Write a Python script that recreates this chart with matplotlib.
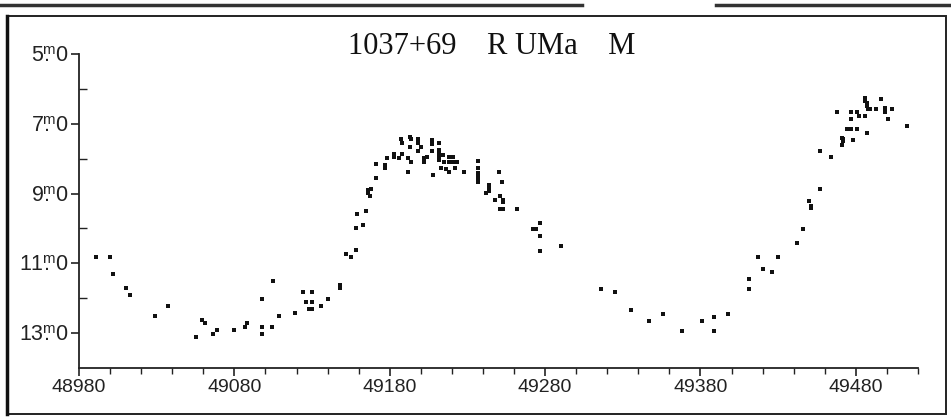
import matplotlib
matplotlib.use("Agg")
import matplotlib.pyplot as plt
from matplotlib.patches import Rectangle
from matplotlib.lines import Line2D
from matplotlib.ticker import FixedLocator, MultipleLocator

plt.rcParams['font.family'] = ['Liberation Sans', 'DejaVu Sans']
plt.rcParams['mathtext.fontset'] = 'custom'
plt.rcParams['mathtext.rm'] = 'Liberation Sans'
plt.rcParams['mathtext.it'] = 'Liberation Sans'

title = "1037+69    R UMa    M"

# Julian date (JD - 2400000) and visual magnitude
jd = [48991, 49000, 49002, 49010, 49013, 49029, 49037,
      49055, 49059, 49061, 49066, 49069, 49080, 49087, 49088,
      49098, 49098, 49098, 49104, 49105, 49109, 49119,
      49124, 49130, 49126, 49130, 49128, 49130, 49136, 49140,
      49148, 49148, 49152, 49155, 49158, 49158, 49163, 49159,
      49165, 49166, 49166, 49167, 49168, 49171, 49171,
      49177, 49177, 49178, 49183, 49183, 49186, 49188,
      49187, 49188, 49192, 49192, 49193, 49194, 49193, 49194,
      49198, 49198, 49198, 49200, 49202, 49202, 49204,
      49207, 49207, 49207, 49208,
      49212, 49212, 49212, 49212, 49212, 49214, 49215, 49213, 49216,
      49218, 49221, 49218, 49221, 49223, 49218, 49222, 49228,
      49237, 49237, 49237, 49237, 49237, 49237,
      49242, 49244, 49244, 49244, 49250, 49252,
      49248, 49251, 49253, 49253, 49251, 49252, 49253, 49262,
      49277, 49272, 49274, 49277, 49277, 49290,
      49316, 49325, 49335, 49347, 49356, 49368, 49381, 49389, 49389, 49398,
      49411, 49411, 49417, 49420, 49426, 49430, 49442, 49446,
      49450, 49451, 49451, 49457, 49457, 49464,
      49471, 49472, 49471, 49472, 49478, 49474, 49477, 49481, 49487,
      49468, 49477, 49481, 49482, 49477, 49486,
      49486, 49486, 49487, 49487, 49488, 49489,
      49496, 49493, 49499, 49499, 49503, 49501, 49513]

mag = [10.83, 10.83, 11.32, 11.72, 11.91, 12.51, 12.21,
       13.11, 12.61, 12.71, 13.02, 12.92, 12.92, 12.82, 12.71,
       12.02, 12.82, 13.03, 12.82, 11.52, 12.52, 12.42,
       11.81, 11.81, 12.11, 12.11, 12.31, 12.31, 12.22, 12.02,
       11.61, 11.72, 10.73, 10.83, 10.63, 10.00, 9.90, 9.60,
       9.49, 8.90, 8.98, 9.07, 8.87, 8.56, 8.16,
       8.18, 8.28, 7.97, 7.87, 7.96, 7.97, 7.87,
       7.45, 7.56, 7.99, 8.37, 7.37, 7.45, 7.66, 8.09,
       7.45, 7.56, 7.77, 7.66, 7.99, 8.09, 7.96,
       7.47, 7.58, 7.77, 8.47,
       7.56, 7.75, 7.85, 7.95, 8.05, 7.90, 8.10, 8.27, 8.30,
       7.96, 7.96, 8.09, 8.09, 8.09, 8.37, 8.28, 8.37,
       8.07, 8.28, 8.41, 8.52, 8.60, 8.67,
       8.97, 8.75, 8.85, 8.93, 8.37, 8.67,
       9.19, 9.07, 9.19, 9.24, 9.43, 9.43, 9.43, 9.43,
       9.83, 10.02, 10.02, 10.22, 10.64, 10.51,
       11.73, 11.82, 12.33, 12.64, 12.44, 12.94, 12.64, 12.55, 12.95, 12.44,
       11.44, 11.74, 10.81, 11.15, 11.25, 10.81, 10.41, 10.02,
       9.21, 9.36, 9.42, 8.88, 7.77, 7.96,
       7.40, 7.50, 7.60, 7.45, 7.47, 7.16, 7.16, 7.16, 7.27,
       6.65, 6.65, 6.65, 6.77, 6.86, 6.77,
       6.27, 6.35, 6.41, 6.48, 6.58, 6.58,
       6.29, 6.58, 6.56, 6.65, 6.58, 6.86, 7.07]

x_major = [48980, 49080, 49180, 49280, 49380, 49480]
y_major = [5, 7, 9, 11, 13]
y_minor = [6, 8, 10, 12]

fig = plt.figure(figsize=(9.51, 4.18), dpi=100)
ax = fig.add_axes([79/951, 1-368/418, (918-79)/951, (368-54)/418])

ax.plot(jd, mag, linestyle='none', marker='s', markersize=2.5,
        color='#111111', markeredgewidth=0)

ax.set_xlim(48980, 49520)
ax.set_ylim(14, 5)

ax.xaxis.set_major_locator(FixedLocator(x_major))
ax.xaxis.set_minor_locator(MultipleLocator(20))
ax.set_xticklabels([str(v) for v in x_major])
ax.yaxis.set_major_locator(FixedLocator(y_major))
ax.yaxis.set_minor_locator(FixedLocator(y_minor))
ax.set_yticklabels([f"{v}" + r"$\overset{\mathrm{m}}{.}$" + "0" for v in y_major])

for s in ['top', 'right']:
    ax.spines[s].set_visible(False)
for s in ['left', 'bottom']:
    ax.spines[s].set_linewidth(1.3)
    ax.spines[s].set_color('#222222')

ax.tick_params(axis='x', which='major', direction='out', length=6, width=1.2,
               labelsize=14, pad=2, colors='#222222')
ax.tick_params(axis='x', which='minor', direction='out', length=4, width=1.0,
               colors='#222222')
ax.tick_params(axis='y', which='major', direction='out', length=6, width=1.2,
               labelsize=15.5, pad=1.5, colors='#222222')
ax.tick_params(axis='y', which='minor', direction='in', length=6, width=1.0,
               colors='#222222')

fig.text(492/951, 1-47/418, title, ha='center', va='center',
         fontsize=22, family=['Liberation Serif', 'DejaVu Serif'], color='#111111')

# page frame
fig.add_artist(Rectangle((7/951, 1-414/418), (946-7)/951, (414-16)/418,
                         transform=fig.transFigure, fill=False,
                         edgecolor='#222222', linewidth=1.4))
fig.add_artist(Line2D([7/951, 7/951], [1-414/418, 1-16/418],
                      transform=fig.transFigure, color='#111111', linewidth=2.5))
fig.add_artist(Line2D([0, 582/951], [1-5/418, 1-5/418],
                      transform=fig.transFigure, color='#333333', linewidth=2.5))
fig.add_artist(Line2D([716/951, 1], [1-5/418, 1-5/418],
                      transform=fig.transFigure, color='#333333', linewidth=2.5))

fig.savefig("out.png", dpi=100)
